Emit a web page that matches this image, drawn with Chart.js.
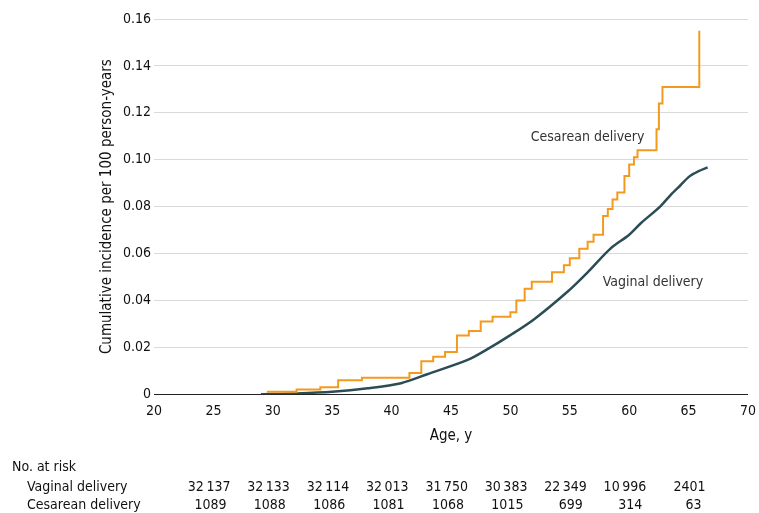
<!DOCTYPE html>
<html><head><meta charset="utf-8">
<script src="https://cdn.jsdelivr.net/npm/chart.js@4"></script>
<style>html,body{margin:0;padding:0;background:#fff}#w{width:759px;height:513px}</style>
</head><body><div id="w"><canvas id="c"></canvas></div>
<script>
const cesAges = [29.5,32,34,35.5,37.5,41.5,42.5,43.5,44.5,45.5,46.5,47.5,48.5,50,50.5,51.2,51.8,53.5,54.5,55,55.8,56.5,57,57.8,58.2,58.6,59,59.6,60,60.4,60.7,62.3,62.5,62.8,65.9,65.9];
const cesVals = [0.001,0.002,0.003,0.006,0.007,0.009,0.014,0.016,0.018,0.025,0.027,0.031,0.033,0.035,0.040,0.045,0.048,0.052,0.055,0.058,0.062,0.065,0.068,0.076,0.079,0.083,0.086,0.093,0.098,0.101,0.104,0.113,0.124,0.131,0.131,0.155];
const vagAges = [29,32,35,38,40.8,43,46.4,48,50,52,54.8,56.5,58.4,60,61,62.6,63.5,64.3,65.1,65.8,66.6];
const vagVals = [0,0.0003,0.001,0.0025,0.0047,0.0085,0.0146,0.019,0.0252,0.032,0.0437,0.052,0.062,0.068,0.073,0.080,0.085,0.089,0.093,0.095,0.0967];
const riskAges = [25,30,35,40,45,50,55,60,65];
const riskVag = ['32\u2009137','32\u2009133','32\u2009114','32\u2009013','31\u2009750','30\u2009383','22\u2009349','10\u2009996','2401'];
const riskCes = ['1089','1088','1086','1081','1068','1015','699','314','63'];
const FONT = "'DejaVu Sans Condensed','Liberation Sans',sans-serif";
Chart.defaults.font.family = FONT;
Chart.defaults.color = '#222';
const extra = {
  id:'extra',
  afterDraw(ch){
    const c=ch.ctx, x=ch.scales.x, y=ch.scales.y;
    c.save(); c.font='14px '+FONT; c.fillStyle='#333';
    c.textAlign='center'; c.textBaseline='middle';
    c.fillText('Cesarean delivery', x.getPixelForValue(56.5), y.getPixelForValue(0.1095));
    c.fillText('Vaginal delivery', x.getPixelForValue(62), y.getPixelForValue(0.0475));
    c.fillStyle='#111';
    c.textAlign='left';
    c.fillText('No. at risk', 12, 467);
    c.fillText('Vaginal delivery', 27, 487);
    c.fillText('Cesarean delivery', 27, 505);
    c.textAlign='right';
    riskAges.forEach((a,i)=>{
      const px=x.getPixelForValue(a);
      c.fillText(riskVag[i], px+17, 487);
      c.fillText(riskCes[i], px+13, 505);
    });
    c.restore();
  }
};
new Chart(document.getElementById('c'),{
  type:'line',
  data:{datasets:[
    {label:'Cesarean delivery',data:cesAges.map((a,i)=>({x:a,y:cesVals[i]})),borderColor:'#f39a1e',borderWidth:2,pointRadius:0,stepped:'before',fill:false},
    {label:'Vaginal delivery',data:vagAges.map((a,i)=>({x:a,y:vagVals[i]})),borderColor:'#2c4d55',borderWidth:2.5,pointRadius:0,tension:0.3,fill:false}
  ]},
  options:{
    responsive:true,maintainAspectRatio:false,animation:false,
    layout:{padding:{left:94,right:10,top:19,bottom:64}},
    plugins:{legend:{display:false},tooltip:{enabled:false}},
    scales:{
      x:{type:'linear',min:20,max:70,
        ticks:{stepSize:5,font:{size:14},color:'#111'},
        grid:{display:false,drawTicks:true,tickLength:6},
        border:{color:'#222',width:1},
        title:{display:true,text:'Age, y',font:{size:15},color:'#111'}},
      y:{min:0,max:0.16,
        ticks:{stepSize:0.02,font:{size:14},color:'#111',callback:v=>v===0?'0':v.toFixed(2)},
        grid:{color:'#d9d9d9',drawTicks:false},
        border:{display:false},
        title:{display:true,text:'Cumulative incidence per 100 person-years',font:{size:15},color:'#111'}}
    }
  },
  plugins:[extra]
});
</script></body></html>
